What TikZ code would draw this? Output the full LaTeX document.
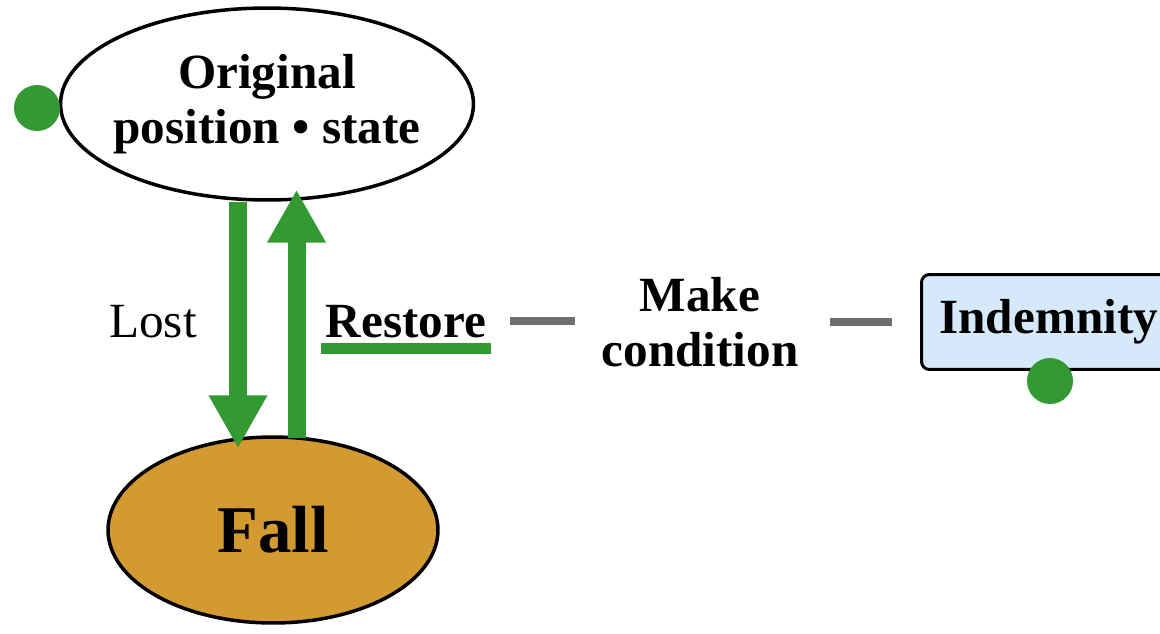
\documentclass[tikz,border=0pt]{standalone}
\usepackage{fontspec}
\setmainfont{Liberation Serif}
\usetikzlibrary{shapes.geometric,arrows.meta}

\definecolor{leafgreen}{RGB}{51,153,51}
\definecolor{fallgold}{RGB}{212,154,50}
\definecolor{paleblue}{RGB}{214,233,250}
\definecolor{dashgray}{RGB}{110,110,110}

\tikzset{
  state/.style={ellipse, draw=black, line width=0.07cm, inner xsep=-0.3cm, inner ysep=0pt, align=center,
    font=\fontsize{28}{31}\selectfont\bfseries},
  bigarrow/.style={leafgreen, line width=0.36cm, -{Triangle[length=1.06cm,width=1.1cm]}},
  dot/.style={circle, fill=leafgreen, inner sep=0pt, minimum size=0.92cm},
  link/.style={dashgray, line width=0.16cm},
  word/.style={font=\fontsize{28}{31}\selectfont, inner sep=0.1cm, align=center}
}

\begin{document}
\begin{tikzpicture}[x=0.02cm, y=-0.02cm]
    % 画布大小
    \useasboundingbox (0,0) rectangle (1160,633);
    \clip (0,0) rectangle (1160,633);

    % 两个状态
    \node[state, minimum width=8.26cm, minimum height=3.84cm] (orig) at (267,104)
        {Original\\position • state};
    \node[state, fill=fallgold, minimum width=6.6cm, minimum height=3.72cm,
        font=\fontsize{38}{40}\selectfont\bfseries] (fall) at (273,530) {Fall};

    % 文字
    \node[word, anchor=base] (lost) at (153,337) {Lost};
    \node[word, anchor=base, font=\fontsize{28}{31}\selectfont\bfseries] (restore) at (406,337) {Restore};
    \node[word, font=\fontsize{28}{31}\selectfont\bfseries] (make) at (700,322) {Make\\condition};
    \node[anchor=west, draw=black, line width=0.06cm, fill=paleblue, rounded corners=0.16cm,
        minimum height=1.9cm, inner xsep=0.36cm, font=\fontsize{28}{31}\selectfont\bfseries]
        (indem) at (920,322) {Indemnity};

    % 圆点
    \node[dot] (dotA) at (37,108) {};
    \node[dot] (dotB) at (1050,381) {};

    % 上下箭头
    \coordinate (lx) at (238,0);
    \coordinate (rx) at (296.5,0);
    \draw[bigarrow, shorten >=-0.26cm] (orig.south -| lx) -- (fall.north -| lx);
    \draw[bigarrow, shorten <=-0.06cm, shorten >=-0.24cm] (fall.north -| rx) -- (orig.south -| rx);

    % 下划线和连线
    \draw[leafgreen, line width=0.22cm] ([yshift=-0.22cm]restore.base west) -- ([yshift=-0.22cm]restore.base east);
    \draw[link, shorten <=0.38cm, shorten >=0.42cm] (restore.east) -- (restore.east -| make.west);
    \draw[link, shorten <=0.52cm, shorten >=0.56cm] (make.east) -- (make.east -| indem.west);

\end{tikzpicture}
\end{document}
